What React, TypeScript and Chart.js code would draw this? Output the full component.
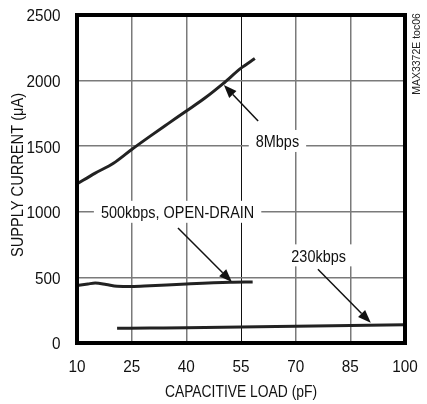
import { useEffect, useRef } from 'react';
import { Chart, registerables } from 'chart.js';

Chart.register(...registerables);

const FONT = "'Liberation Sans', Arial, sans-serif";

const xTicks = [10, 25, 40, 55, 70, 85, 100];
const yTicks = [0, 500, 1000, 1500, 2000, 2500];

const load8M = [10, 15, 20, 25, 30, 35, 40, 45, 50, 55, 58.8];
const current8M = [1212, 1295, 1370, 1475, 1575, 1672, 1768, 1865, 1975, 2095, 2168];

const load500k = [10, 13, 15, 18, 21, 25, 30, 40, 52, 58.2];
const current500k = [438, 450, 457, 446, 432, 430, 436, 450, 463, 465];

const load230k = [21, 30, 40, 55, 70, 85, 100];
const current230k = [112, 114, 116, 121, 127, 133, 139];

const labelTexts = ['8Mbps', '500kbps, OPEN-DRAIN', '230kbps'];
const labelX = [65, 37.6, 76.3];
const labelY = [1540, 1000, 668];
const arrowFromX = [59.7, 37.7, 76.1];
const arrowFromY = [1692, 876, 562];
const arrowToX = [50.3, 52.5, 90.6];
const arrowToY = [1966, 465, 155];

const xTitle = 'CAPACITIVE LOAD (pF)';
const yTitle = 'SUPPLY CURRENT (\u03bcA)';
const sideNote = 'MAX3372E toc06';

function pts(xs: number[], ys: number[]) {
  return xs.map((x, i) => ({ x, y: ys[i] }));
}

function drawText(
  ctx: CanvasRenderingContext2D,
  text: string,
  x: number,
  y: number,
  sx: number,
  align: CanvasTextAlign,
  rot = 0,
) {
  ctx.save();
  ctx.translate(x, y);
  if (rot) ctx.rotate(rot);
  ctx.scale(sx, 1);
  ctx.textAlign = align;
  ctx.textBaseline = 'alphabetic';
  ctx.fillText(text, 0, 0);
  ctx.restore();
}

const overlayPlugin = {
  id: 'overlay',
  afterDatasetsDraw(chart: any) {
    const ctx = chart.ctx as CanvasRenderingContext2D;
    const xs = chart.scales.x;
    const ys = chart.scales.y;
    ctx.save();
    ctx.font = `17px ${FONT}`;
    labelTexts.forEach((t, i) => {
      const cx = xs.getPixelForValue(labelX[i]);
      const cy = ys.getPixelForValue(labelY[i]);
      const w = ctx.measureText(t).width * 0.85;
      ctx.fillStyle = '#fff';
      ctx.fillRect(cx - w / 2 - 7, cy - 11, w + 14, 22);
      ctx.fillStyle = '#111';
      drawText(ctx, t, cx, cy + 6.3, 0.85, 'center');
    });
    arrowFromX.forEach((_, i) => {
      const x1 = xs.getPixelForValue(arrowFromX[i]);
      const y1 = ys.getPixelForValue(arrowFromY[i]);
      const x2 = xs.getPixelForValue(arrowToX[i]);
      const y2 = ys.getPixelForValue(arrowToY[i]);
      const ang = Math.atan2(y2 - y1, x2 - x1);
      const hl = 13;
      const hw = 5;
      const bx = x2 - hl * Math.cos(ang);
      const by = y2 - hl * Math.sin(ang);
      ctx.strokeStyle = '#111';
      ctx.lineWidth = 1.5;
      ctx.beginPath();
      ctx.moveTo(x1, y1);
      ctx.lineTo(bx, by);
      ctx.stroke();
      ctx.fillStyle = '#111';
      ctx.beginPath();
      ctx.moveTo(x2, y2);
      ctx.lineTo(bx + hw * Math.sin(ang), by - hw * Math.cos(ang));
      ctx.lineTo(bx - hw * Math.sin(ang), by + hw * Math.cos(ang));
      ctx.closePath();
      ctx.fill();
    });
    ctx.restore();
  },
  afterDraw(chart: any) {
    const ctx = chart.ctx as CanvasRenderingContext2D;
    const a = chart.chartArea;
    const xs = chart.scales.x;
    const ys = chart.scales.y;
    ctx.save();
    ctx.strokeStyle = '#000';
    ctx.lineWidth = 4;
    ctx.strokeRect(a.left, a.top, a.right - a.left, a.bottom - a.top);

    ctx.fillStyle = '#111';
    ctx.font = `17px ${FONT}`;
    // tick labels
    yTicks.forEach((v) => {
      drawText(ctx, String(v), a.left - 16.5, ys.getPixelForValue(v) + 6.4, 0.9, 'right');
    });
    xTicks.forEach((v) => {
      drawText(ctx, String(v), xs.getPixelForValue(v), a.bottom + 28.7, 0.9, 'center');
    });
    // axis titles
    drawText(ctx, xTitle, (a.left + a.right) / 2, a.bottom + 53.5, 0.815, 'center');
    drawText(ctx, yTitle, 23, (a.top + a.bottom) / 2 - 4, 0.86, 'center', -Math.PI / 2);
    // side note
    ctx.fillStyle = '#222';
    ctx.font = `10.5px ${FONT}`;
    drawText(ctx, sideNote, a.right + 15, a.top + 39, 1, 'center', -Math.PI / 2);
    ctx.restore();
  },
};

export default function App() {
  const ref = useRef<HTMLCanvasElement | null>(null);
  useEffect(() => {
    if (!ref.current) return;
    const lineDs = (data: any) => ({
      data,
      borderColor: '#222',
      borderWidth: 3,
      pointRadius: 0,
      tension: 0.4,
      cubicInterpolationMode: 'monotone' as const,
      fill: false,
    });
    const gridColor = (c: any) =>
      c.tick && c.tick.value === 55 && c.scale.axis === 'x' ? '#111' : '#7a7a7a';
    const gridWidth = (c: any) =>
      c.tick && c.tick.value === 55 && c.scale.axis === 'x' ? 1 : 1.5;
    const chart = new Chart(ref.current, {
      type: 'line',
      data: {
        datasets: [
          lineDs(pts(load8M, current8M)),
          lineDs(pts(load500k, current500k)),
          lineDs(pts(load230k, current230k)),
        ],
      },
      options: {
        responsive: false,
        animation: false,
        devicePixelRatio: 1,
        layout: { padding: { top: 15, right: 22, left: 0, bottom: 0 } },
        plugins: { legend: { display: false }, tooltip: { enabled: false } },
        scales: {
          x: {
            type: 'linear',
            min: 10,
            max: 100,
            afterBuildTicks: (s: any) => {
              s.ticks = xTicks.map((v) => ({ value: v }));
            },
            afterFit: (s: any) => {
              s.height = 61;
              s.paddingLeft = 0;
              s.paddingRight = 0;
            },
            border: { display: false },
            grid: { color: gridColor, lineWidth: gridWidth, drawTicks: false },
            ticks: { display: false, autoSkip: false },
          },
          y: {
            type: 'linear',
            min: 0,
            max: 2500,
            afterBuildTicks: (s: any) => {
              s.ticks = yTicks.map((v) => ({ value: v }));
            },
            afterFit: (s: any) => {
              s.width = 77;
              s.paddingTop = 0;
              s.paddingBottom = 0;
            },
            border: { display: false },
            grid: { color: gridColor, lineWidth: gridWidth, drawTicks: false },
            ticks: { display: false, autoSkip: false },
          },
        },
      },
      plugins: [overlayPlugin],
    });
    return () => chart.destroy();
  }, []);
  return (
    <div style={{ position: 'fixed', left: 0, top: 0, width: 427, height: 404, background: '#fff' }}>
      <canvas ref={ref} width={427} height={404} style={{ width: 427, height: 404 }} />
    </div>
  );
}
